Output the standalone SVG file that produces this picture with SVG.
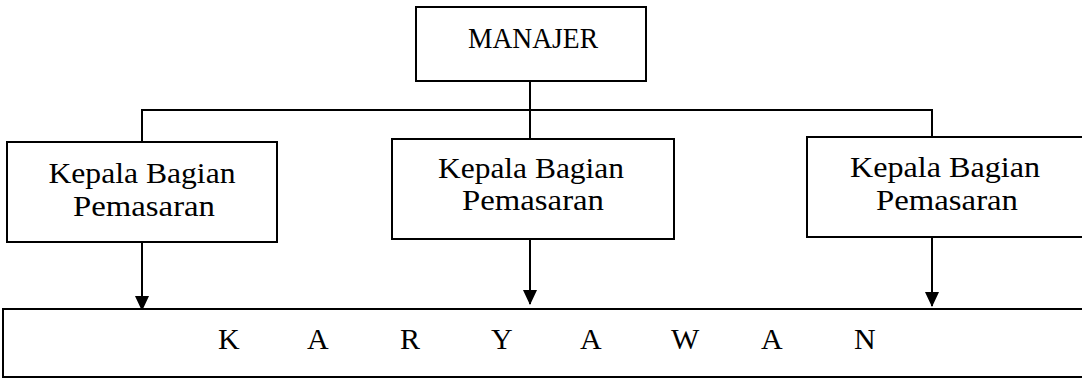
<svg xmlns="http://www.w3.org/2000/svg" width="1082" height="379" viewBox="0 0 1082 379">
<style>
.box{fill:#fff;stroke:#000;stroke-width:2}
.t{font-family:"Liberation Serif","Times New Roman",serif;font-size:30px;fill:#000;text-anchor:middle}
.k{font-family:"Liberation Serif","Times New Roman",serif;font-size:30px;fill:#000}
.ln{fill:none;stroke:#000;stroke-width:2}
</style>
<defs>
<marker id="ah" markerWidth="15" markerHeight="16" refX="15" refY="7.5" orient="auto" markerUnits="userSpaceOnUse" viewBox="0 0 16 15">
<path d="M0,0 L16,7.5 L0,15 Z" fill="#000"/>
</marker>
</defs>
<g id="connectors">
<path class="ln" d="M530,81 V110"/>
<path class="ln" d="M142,142 V110 H932 V137"/>
<path class="ln" d="M530,110 V139"/>
<path class="ln" d="M142,242 V310" marker-end="url(#ah)"/>
<path class="ln" d="M530,239 V304" marker-end="url(#ah)"/>
<path class="ln" d="M932,237 V306" marker-end="url(#ah)"/>
</g>
<g id="manajer">
<rect class="box" x="416" y="7" width="230" height="74"/>
<text class="t" x="533" y="48" textLength="130" lengthAdjust="spacingAndGlyphs">MANAJER</text>
</g>
<g id="kabag1">
<rect class="box" x="7" y="142" width="270" height="100"/>
<text class="t" x="142" y="183" textLength="187" lengthAdjust="spacingAndGlyphs">Kepala Bagian</text>
<text class="t" x="144" y="216" textLength="142" lengthAdjust="spacingAndGlyphs">Pemasaran</text>
</g>
<g id="kabag2">
<rect class="box" x="392" y="139" width="282" height="100"/>
<text class="t" x="531" y="178" textLength="186" lengthAdjust="spacingAndGlyphs">Kepala Bagian</text>
<text class="t" x="533" y="210" textLength="142" lengthAdjust="spacingAndGlyphs">Pemasaran</text>
</g>
<g id="kabag3">
<rect class="box" x="807" y="137" width="280" height="100"/>
<text class="t" x="945" y="177" textLength="190" lengthAdjust="spacingAndGlyphs">Kepala Bagian</text>
<text class="t" x="947" y="210" textLength="142" lengthAdjust="spacingAndGlyphs">Pemasaran</text>
</g>
<g id="karyawan">
<rect class="box" x="3" y="309" width="1090" height="68"/>
<text class="k" y="349" x="218 240 307 328 400 420 491 511 580 600 671 691 761 781 854">K A R Y A W A N</text>
</g>
</svg>
